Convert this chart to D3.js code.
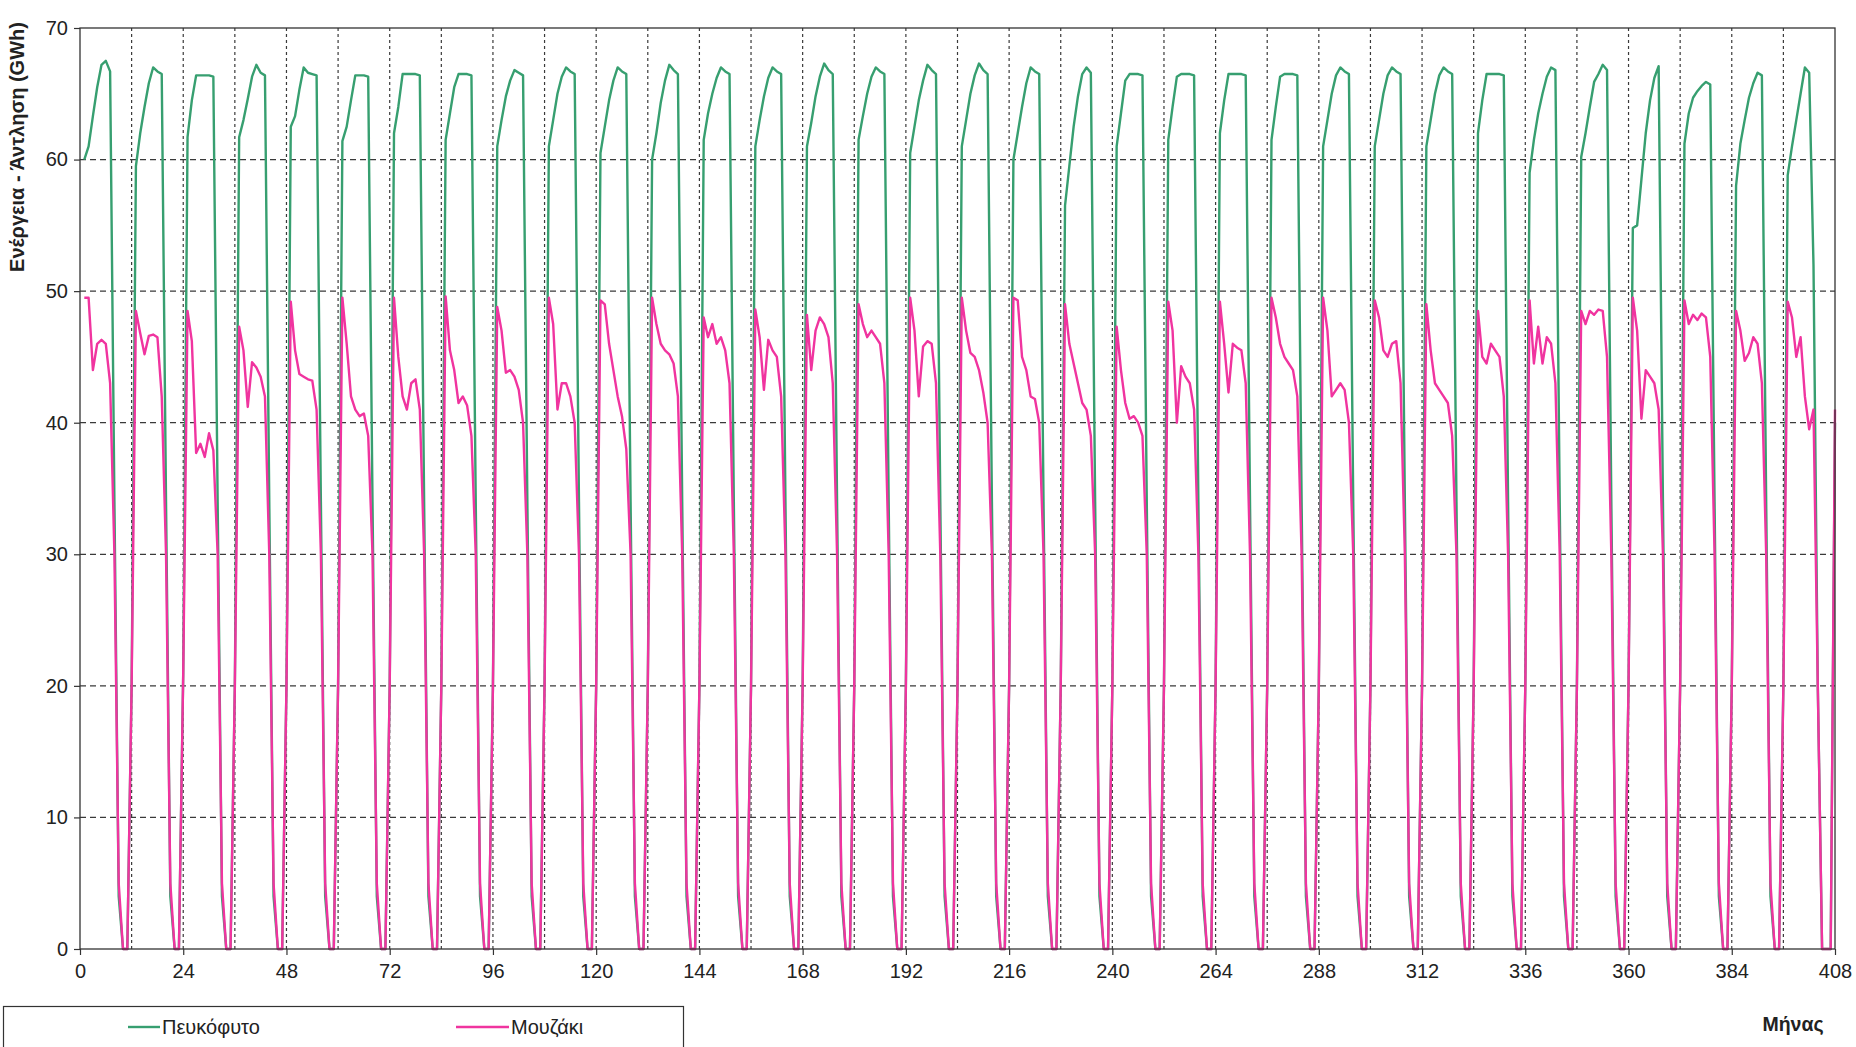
<!DOCTYPE html>
<html><head><meta charset="utf-8">
<script src="https://cdn.jsdelivr.net/npm/d3@7"></script>
<style>body{margin:0;background:#fff}svg{display:block}</style>
</head><body><svg id="c" width="1856" height="1047"></svg>
<script>
const yTicks = [0,10,20,30,40,50,60,70];
const xTicks = [0,24,48,72,96,120,144,168,192,216,240,264,288,312,336,360,384,408];
const xGrid = [12,24,36,48,60,72,84,96,108,120,132,144,156,168,180,192,204,216,228,240,252,264,276,288,300,312,324,336,348,360,372,384,396];
const seriesNames = ["Πευκόφυτο","Μουζάκι"];
const seriesColors = ["#379f70","#f0349f"];

// Πευκόφυτο, one row per year (months 1..12)
const pefkofyto = [
[60,61,63.3,65.5,67.2,67.5,66.7,34,4,0,0,20],
[59.5,62,64,65.8,67,66.7,66.5,34,4,0,0,21],
[61.7,64.5,66.4,66.4,66.4,66.4,66.3,34,4,0,0,20],
[61.7,63,64.6,66.3,67.2,66.6,66.4,34,4,0,0,20],
[62.5,63.3,65.3,67,66.6,66.5,66.4,34,4,0,0,20],
[61.4,62.5,64.5,66.4,66.4,66.4,66.3,34,4,0,0,20],
[62,64,66.5,66.5,66.5,66.5,66.4,34,4,0,0,20],
[61.5,63.5,65.5,66.5,66.5,66.5,66.4,34,4,0,0,20],
[61,63,64.8,66,66.8,66.6,66.4,34,4,0,0,20],
[61,63,65,66.3,67,66.7,66.5,34,4,0,0,20],
[60.5,62.5,64.5,66,67,66.7,66.5,34,4,0,0,20],
[60,62,64.3,66,67.2,66.8,66.5,34,4,0,0,20],
[61.5,63.5,65,66.2,67,66.7,66.5,34,4,0,0,20],
[61,63,64.8,66.2,67,66.7,66.5,34,4,0,0,20],
[61,62.8,64.8,66.3,67.3,66.8,66.5,34,4,0,0,20],
[61.5,63.3,65,66.3,67,66.7,66.5,34,4,0,0,20],
[60.5,62.5,64.5,66,67.2,66.8,66.5,34,4,0,0,20],
[61,63,65,66.4,67.3,66.8,66.5,34,4,0,0,20],
[60,62,64,65.8,67,66.7,66.5,34,4,0,0,20],
[56.5,59.5,62.5,64.8,66.5,67,66.6,34,4,0,0,20],
[61,63.5,66,66.5,66.5,66.5,66.4,34,4,0,0,20],
[61.5,64,66.3,66.5,66.5,66.5,66.4,34,4,0,0,20],
[62,64.5,66.5,66.5,66.5,66.5,66.4,34,4,0,0,20],
[61.5,64,66.3,66.5,66.5,66.5,66.4,34,4,0,0,20],
[61,63,65,66.4,67,66.7,66.5,34,4,0,0,20],
[61,63,65,66.4,67,66.7,66.5,34,4,0,0,20],
[61,63,65,66.4,67,66.7,66.5,34,4,0,0,20],
[62,64.5,66.5,66.5,66.5,66.5,66.4,34,4,0,0,20],
[59,61.5,63.5,65,66.3,67,66.8,34,4,0,0,20],
[60.2,62,64,65.9,66.5,67.2,66.8,34,4,0,0,20],
[54.8,55,58.5,62,64.5,66.2,67.1,34,4,0,0,20],
[61.2,63.5,64.7,65.2,65.6,65.9,65.7,34,4,0,0,20],
[58,61.2,63,64.7,65.8,66.6,66.4,34,4,0,0,20],
[58.8,61,63,65,67,66.6,52,20,0,0,0,40]
].flat();

// Μουζάκι, one row per year (months 1..12)
const mouzaki = [
[49.5,49.5,44,46,46.3,46,43,30,5,0,0,20],
[48.5,46.8,45.2,46.6,46.7,46.5,42,30,5,0,0,21],
[48.5,46.2,37.7,38.4,37.4,39.2,37.9,30,5,0,0,20],
[47.3,45.5,41.2,44.6,44.2,43.5,42,30,5,0,0,20],
[49.2,45.5,43.7,43.5,43.3,43.2,41,30,5,0,0,20],
[49.5,46,42,41,40.5,40.7,39,30,5,0,0,20],
[49.5,45,42,41,43,43.3,41,30,5,0,0,20],
[49.6,45.5,44,41.5,42,41.3,39,30,5,0,0,20],
[48.8,47,43.8,44,43.5,42.5,40,30,5,0,0,20],
[49.5,47.5,41,43,43,42,40,30,5,0,0,20],
[49.3,49,46,44,42,40.5,38,30,5,0,0,20],
[49.5,47.5,46,45.5,45.2,44.5,42,30,5,0,0,20],
[48,46.5,47.5,46,46.5,45.5,43,30,5,0,0,20],
[48.6,46.5,42.5,46.3,45.5,45,42,30,5,0,0,20],
[48.2,44,47,48,47.5,46.5,43,30,5,0,0,20],
[49,47.5,46.5,47,46.5,46,43,30,5,0,0,20],
[49.5,47,42,45.8,46.2,46,43,30,5,0,0,20],
[49.5,47,45.3,45,44,42.3,40,30,5,0,0,20],
[49.5,49.3,45,44,42,41.8,40,30,5,0,0,20],
[49,46,44.5,43,41.5,41,39,30,5,0,0,20],
[47.3,44,41.5,40.3,40.5,40,39,30,5,0,0,20],
[49.2,47,40,44.3,43.5,43,41,30,5,0,0,20],
[49.2,46,42.3,46,45.7,45.5,43,30,5,0,0,20],
[49.5,48,46,45,44.5,44,42,30,5,0,0,20],
[49.5,47,42,42.5,43,42.5,40,30,5,0,0,20],
[49.3,48,45.5,45,46,46.2,43,30,5,0,0,20],
[49,45.5,43,42.5,42,41.5,39,30,5,0,0,20],
[48.5,45,44.5,46,45.5,45,42,30,5,0,0,20],
[49.3,44.5,47.3,44.5,46.5,46,43,30,5,0,0,20],
[48.5,47.5,48.5,48.2,48.6,48.5,45,30,5,0,0,20],
[49.5,47,40.3,44,43.5,43,41,30,5,0,0,20],
[49.3,47.5,48.2,47.8,48.3,48,45,30,5,0,0,20],
[48.5,47,44.7,45.3,46.5,46,43,30,5,0,0,20],
[49.2,48,45,46.5,42,39.5,41,20,0,0,0,41]
].flat();

const svg = d3.select("#c");
const L = 80, R = 1835, T = 28, B = 949;
const x = d3.scaleLinear().domain([0,408]).range([L,R]);
const y = d3.scaleLinear().domain([0,70]).range([B,T]);
const font = "'Liberation Sans', Arial, sans-serif";

svg.append("rect").attr("width",1856).attr("height",1047).attr("fill","#fff");

// gridlines
svg.append("g").selectAll("line").data(yTicks.filter(v=>v>0&&v<70)).join("line")
  .attr("x1",L).attr("x2",R).attr("y1",d=>y(d)).attr("y2",d=>y(d))
  .attr("stroke","#3a3a3a").attr("stroke-width",1.2).attr("stroke-dasharray","6,4");
svg.append("g").selectAll("line").data(xGrid).join("line")
  .attr("x1",d=>x(d)).attr("x2",d=>x(d)).attr("y1",T).attr("y2",B)
  .attr("stroke","#3a3a3a").attr("stroke-width",1.2).attr("stroke-dasharray","3,3");

// axes
const yAxis = d3.axisLeft(y).tickValues(yTicks).tickSize(6).tickPadding(6);
const gy = svg.append("g").attr("transform",`translate(${L},0)`).call(yAxis);
const xAxis = d3.axisBottom(x).tickValues(xTicks).tickSize(6).tickPadding(9);
const gx = svg.append("g").attr("transform",`translate(0,${B})`).call(xAxis);
[gy,gx].forEach(g=>{
  g.select(".domain").remove();
  g.selectAll("line").attr("stroke","#333").attr("stroke-width",1.2);
  g.selectAll("text").attr("font-family",font).attr("font-size",20).attr("fill","#222");
});

// series
const line = d3.line().x((d,i)=>x(i+1)).y(d=>y(d));
[pefkofyto, mouzaki].forEach((s,k)=>{
  svg.append("path").datum(s).attr("d",line).attr("fill","none")
    .attr("stroke",seriesColors[k]).attr("stroke-width",2.4).attr("stroke-linejoin","round");
});

// frame
svg.append("rect").attr("x",L).attr("y",T).attr("width",R-L).attr("height",B-T)
  .attr("fill","none").attr("stroke","#333").attr("stroke-width",1.3);

// titles
svg.append("text").attr("transform","translate(24,147) rotate(-90)").attr("text-anchor","middle")
  .attr("font-family",font).attr("font-weight","bold").attr("font-size",20).attr("fill","#222")
  .text("Ενέργεια - Άντληση (GWh)");
svg.append("text").attr("x",1793).attr("y",1031).attr("text-anchor","middle")
  .attr("font-family",font).attr("font-weight","bold").attr("font-size",19.5).attr("fill","#222")
  .text("Μήνας");

// legend
const lg = svg.append("g");
lg.append("rect").attr("x",3.5).attr("y",1006.5).attr("width",680).attr("height",60)
  .attr("fill","#fff").attr("stroke","#333").attr("stroke-width",1.2);
const legendPos = [{lx:128, tx:162},{lx:456, tx:511}];
seriesNames.forEach((n,k)=>{
  lg.append("line").attr("x1",legendPos[k].lx).attr("x2",legendPos[k].tx-2)
    .attr("y1",1027).attr("y2",1027).attr("stroke",seriesColors[k]).attr("stroke-width",2.4);
  lg.append("text").attr("x",legendPos[k].tx).attr("y",1034).attr("font-family",font)
    .attr("font-size",20).attr("fill","#222").text(n);
});
</script></body></html>
